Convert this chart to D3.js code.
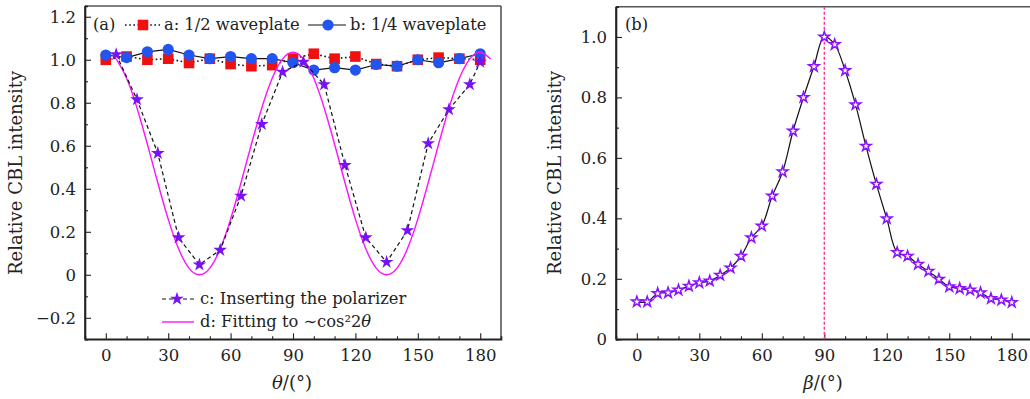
<!DOCTYPE html>
<html><head><meta charset="utf-8">
<script src="https://cdn.jsdelivr.net/npm/d3@7"></script>
<style>
body{margin:0;background:#fff}
svg{display:block}
text{font-family:"DejaVu Serif",serif;fill:#222}
</style>
</head><body>
<svg id="c" width="1030" height="399"></svg>
<script>
// ---------- DATA ----------
const thetaA = [0,10,20,30,40,50,60,70,80,90,100,110,120,130,140,150,160,170,180];
const halfWave = [1.00,1.015,1.00,1.005,0.985,1.005,0.98,0.97,0.975,1.005,1.028,1.005,1.015,0.98,0.97,1.00,1.01,1.005,1.00];
const quarterWave = [1.022,1.01,1.037,1.048,1.022,1.005,1.015,1.005,1.005,0.986,0.952,0.963,0.952,0.978,0.97,1.00,0.986,1.005,1.028];
const thetaC = [5,15,25,35,45,55,65,75,85,95,105,115,125,135,145,155,165,175,180];
const polarizer = [1.025,0.815,0.565,0.173,0.047,0.115,0.367,0.70,0.943,0.99,0.885,0.51,0.173,0.059,0.206,0.611,0.769,0.885,0.99];
const thetaFit = [5,10,15,20,25,30,35,40,45,50,55,60,65,70,75,80,85,90,95,100,105,110,115,120,125,130,135,140,145,150,155,160,165,170,175,180,185];
const fitVals = [1.004,0.914,0.776,0.607,0.428,0.259,0.121,0.031,0.0,0.031,0.121,0.259,0.428,0.607,0.776,0.914,1.004,1.035,1.004,0.914,0.776,0.607,0.428,0.259,0.121,0.031,0.0,0.031,0.121,0.259,0.428,0.607,0.776,0.914,1.004,1.035,1.004];
const betaB = [0,5,10,15,20,25,30,35,40,45,50,55,60,65,70,75,80,85,90,95,100,105,110,115,120,125,130,135,140,145,150,155,160,165,170,175,180];
const cblB = [0.124,0.124,0.152,0.154,0.163,0.176,0.187,0.193,0.212,0.236,0.275,0.336,0.375,0.474,0.554,0.689,0.80,0.902,1.0,0.975,0.889,0.776,0.639,0.513,0.399,0.287,0.275,0.248,0.225,0.199,0.174,0.168,0.163,0.154,0.135,0.130,0.122];
const xTicks = [0,30,60,90,120,150,180];
const xMinor = [10,20,40,50,70,80,100,110,130,140,160,170];
const yTicksA = [-0.2,0,0.2,0.4,0.6,0.8,1.0,1.2];
const yMinorA = [-0.1,0.1,0.3,0.5,0.7,0.9,1.1];
const yTicksB = [0,0.2,0.4,0.6,0.8,1.0];
const yMinorB = [0.1,0.3,0.5,0.7,0.9];
const legendA = ["(a)","a: 1/2 waveplate","b: 1/4 waveplate","c: Inserting the polarizer","d: Fitting to ∼cos²2"];

// ---------- SETUP ----------
const svg = d3.select("#c");
const FS = 16.5;
const LFS = 16.3;
const fmt = d => d === 0 ? "0" : d3.format(".1f")(d).replace("-", "\u2212");

const xa = d3.scaleLinear([-10,190],[85,501]);
const ya = d3.scaleLinear([-0.3,1.25],[339.3,6]);
const xb = d3.scaleLinear([-10,190],[616,1032.6]);
const yb = d3.scaleLinear([0,1.1],[339.3,6.7]);

function frame(x, y, rightVisible){
  const [x0,x1] = x.range(), [y0,y1] = y.range();
  const g = svg.append("g");
  g.append("line").attr("x1",x0).attr("x2",x1).attr("y1",y1).attr("y2",y1).attr("stroke","#555").attr("stroke-width",1.6);
  if (rightVisible) g.append("line").attr("x1",x1).attr("x2",x1).attr("y1",y1).attr("y2",y0).attr("stroke","#555").attr("stroke-width",1.6);
}
function axes(x, y, yMaj, yMin){
  const [x0] = x.range(), [y0] = y.range();
  const gx = svg.append("g").attr("transform",`translate(0,${y0})`);
  gx.call(d3.axisBottom(x).tickValues(xTicks).tickSize(-6).tickPadding(10).tickFormat(d3.format("d")));
  const gxm = svg.append("g").attr("transform",`translate(0,${y0})`);
  gxm.call(d3.axisBottom(x).tickValues(xMinor).tickSize(-3).tickFormat(""));
  const gy = svg.append("g").attr("transform",`translate(${x0},0)`);
  gy.call(d3.axisLeft(y).tickValues(yMaj).tickSize(-6).tickPadding(9).tickFormat(fmt));
  const gym = svg.append("g").attr("transform",`translate(${x0},0)`);
  gym.call(d3.axisLeft(y).tickValues(yMin).tickSize(-3).tickFormat(""));
  [gx,gxm,gy,gym].forEach(g=>{
    g.selectAll(".domain").attr("stroke","#222").attr("stroke-width",1.6);
    g.selectAll(".tick line").attr("stroke","#222").attr("stroke-width",1.1);
    g.selectAll("text").attr("font-size",FS).attr("font-family","DejaVu Serif").attr("fill","#222");
  });
  gx.selectAll(".domain").attr("d",`M${x.range()[0]},0H${x.range()[1]}`);
  gy.selectAll(".domain").attr("d",`M0,${y.range()[0]}V${y.range()[1]}`);
}

// ---------- PANEL (a) ----------
frame(xa, ya, true);
axes(xa, ya, yTicksA, yMinorA);

const lineA = d3.line().x((d,i)=>xa(thetaA[i])).y(d=>ya(d));
svg.append("path").datum(halfWave).attr("d",lineA).attr("fill","none")
  .attr("stroke","#111").attr("stroke-width",1.6).attr("stroke-dasharray","1.6,2.6");
svg.append("g").selectAll("rect").data(halfWave).join("rect")
  .attr("x",(d,i)=>xa(thetaA[i])-5.3).attr("y",d=>ya(d)-5.3).attr("width",10.6).attr("height",10.6).attr("fill","#f01010");

svg.append("path").datum(quarterWave).attr("d",lineA).attr("fill","none")
  .attr("stroke","#111").attr("stroke-width",1.2);
svg.append("g").selectAll("circle").data(quarterWave).join("circle")
  .attr("cx",(d,i)=>xa(thetaA[i])).attr("cy",d=>ya(d)).attr("r",5.6).attr("fill","#2255f0");

svg.append("path").datum(fitVals)
  .attr("d",d3.line().x((d,i)=>xa(thetaFit[i])).y(d=>ya(d)).curve(d3.curveNatural))
  .attr("fill","none").attr("stroke","#ff10ff").attr("stroke-width",1.4);

svg.append("path").datum(polarizer)
  .attr("d",d3.line().x((d,i)=>xa(thetaC[i])).y(d=>ya(d)))
  .attr("fill","none").attr("stroke","#111").attr("stroke-width",1.2).attr("stroke-dasharray","4,3");
const starA = d3.symbol(d3.symbolStar, 58);
svg.append("g").selectAll("path").data(polarizer).join("path")
  .attr("transform",(d,i)=>`translate(${xa(thetaC[i])},${ya(d)})`).attr("d",starA).attr("fill","#7a10f5");

// legend (a)
const lg = svg.append("g");
lg.append("text").attr("x",93).attr("y",30).attr("font-size",LFS).text(legendA[0]);
lg.append("line").attr("x1",125).attr("x2",160).attr("y1",25).attr("y2",25).attr("stroke","#111").attr("stroke-width",1.6).attr("stroke-dasharray","1.6,2.6");
lg.append("rect").attr("x",143-5.3).attr("y",25-5.3).attr("width",10.6).attr("height",10.6).attr("fill","#f01010");
lg.append("text").attr("x",164).attr("y",30).attr("font-size",LFS).text(legendA[1]);
lg.append("line").attr("x1",308).attr("x2",346).attr("y1",25).attr("y2",25).attr("stroke","#111").attr("stroke-width",1.2);
lg.append("circle").attr("cx",328).attr("cy",25).attr("r",5.6).attr("fill","#2255f0");
lg.append("text").attr("x",350).attr("y",30).attr("font-size",LFS).text(legendA[2]);
lg.append("line").attr("x1",162).attr("x2",194).attr("y1",299).attr("y2",299).attr("stroke","#111").attr("stroke-width",1.2).attr("stroke-dasharray","4,3");
lg.append("path").attr("transform","translate(177,299)").attr("d",starA).attr("fill","#7a10f5");
lg.append("text").attr("x",200).attr("y",304).attr("font-size",LFS).text(legendA[3]);
lg.append("line").attr("x1",162).attr("x2",194).attr("y1",322).attr("y2",322).attr("stroke","#ff10ff").attr("stroke-width",1.4);
const tD = lg.append("text").attr("x",200).attr("y",327).attr("font-size",LFS);
tD.append("tspan").text(legendA[4]);
tD.append("tspan").attr("font-style","italic").text("θ");

// axis titles (a)
const tx = svg.append("text").attr("x",292).attr("y",389).attr("text-anchor","middle").attr("font-size",18);
tx.append("tspan").attr("font-style","italic").text("θ");
tx.append("tspan").text("/(°)");
svg.append("text").attr("transform","translate(22,173) rotate(-90)").attr("text-anchor","middle").attr("font-size",18).text("Relative CBL intensity");

// ---------- PANEL (b) ----------
frame(xb, yb, false);
axes(xb, yb, yTicksB, yMinorB);
svg.append("line").attr("x1",xb(90)).attr("x2",xb(90)).attr("y1",yb.range()[1]).attr("y2",yb.range()[0])
  .attr("stroke","#ff3399").attr("stroke-width",1.4).attr("stroke-dasharray","3,2");
svg.append("path").datum(cblB)
  .attr("d",d3.line().x((d,i)=>xb(betaB[i])).y(d=>yb(d)).curve(d3.curveCatmullRom))
  .attr("fill","none").attr("stroke","#111").attr("stroke-width",1.2);
const starB = d3.symbol(d3.symbolStar, 34);
svg.append("g").selectAll("path").data(cblB).join("path")
  .attr("transform",(d,i)=>`translate(${xb(betaB[i])},${yb(d)})`).attr("d",starB)
  .attr("fill","#fff").attr("stroke","#8a10ff").attr("stroke-width",1.5);
svg.append("text").attr("x",625).attr("y",30).attr("font-size",LFS).text("(b)");
const tb = svg.append("text").attr("x",823).attr("y",389).attr("text-anchor","middle").attr("font-size",18);
tb.append("tspan").attr("font-style","italic").text("β");
tb.append("tspan").text("/(°)");
svg.append("text").attr("transform","translate(561,173) rotate(-90)").attr("text-anchor","middle").attr("font-size",18).text("Relative CBL intensity");
</script>
</body></html>
